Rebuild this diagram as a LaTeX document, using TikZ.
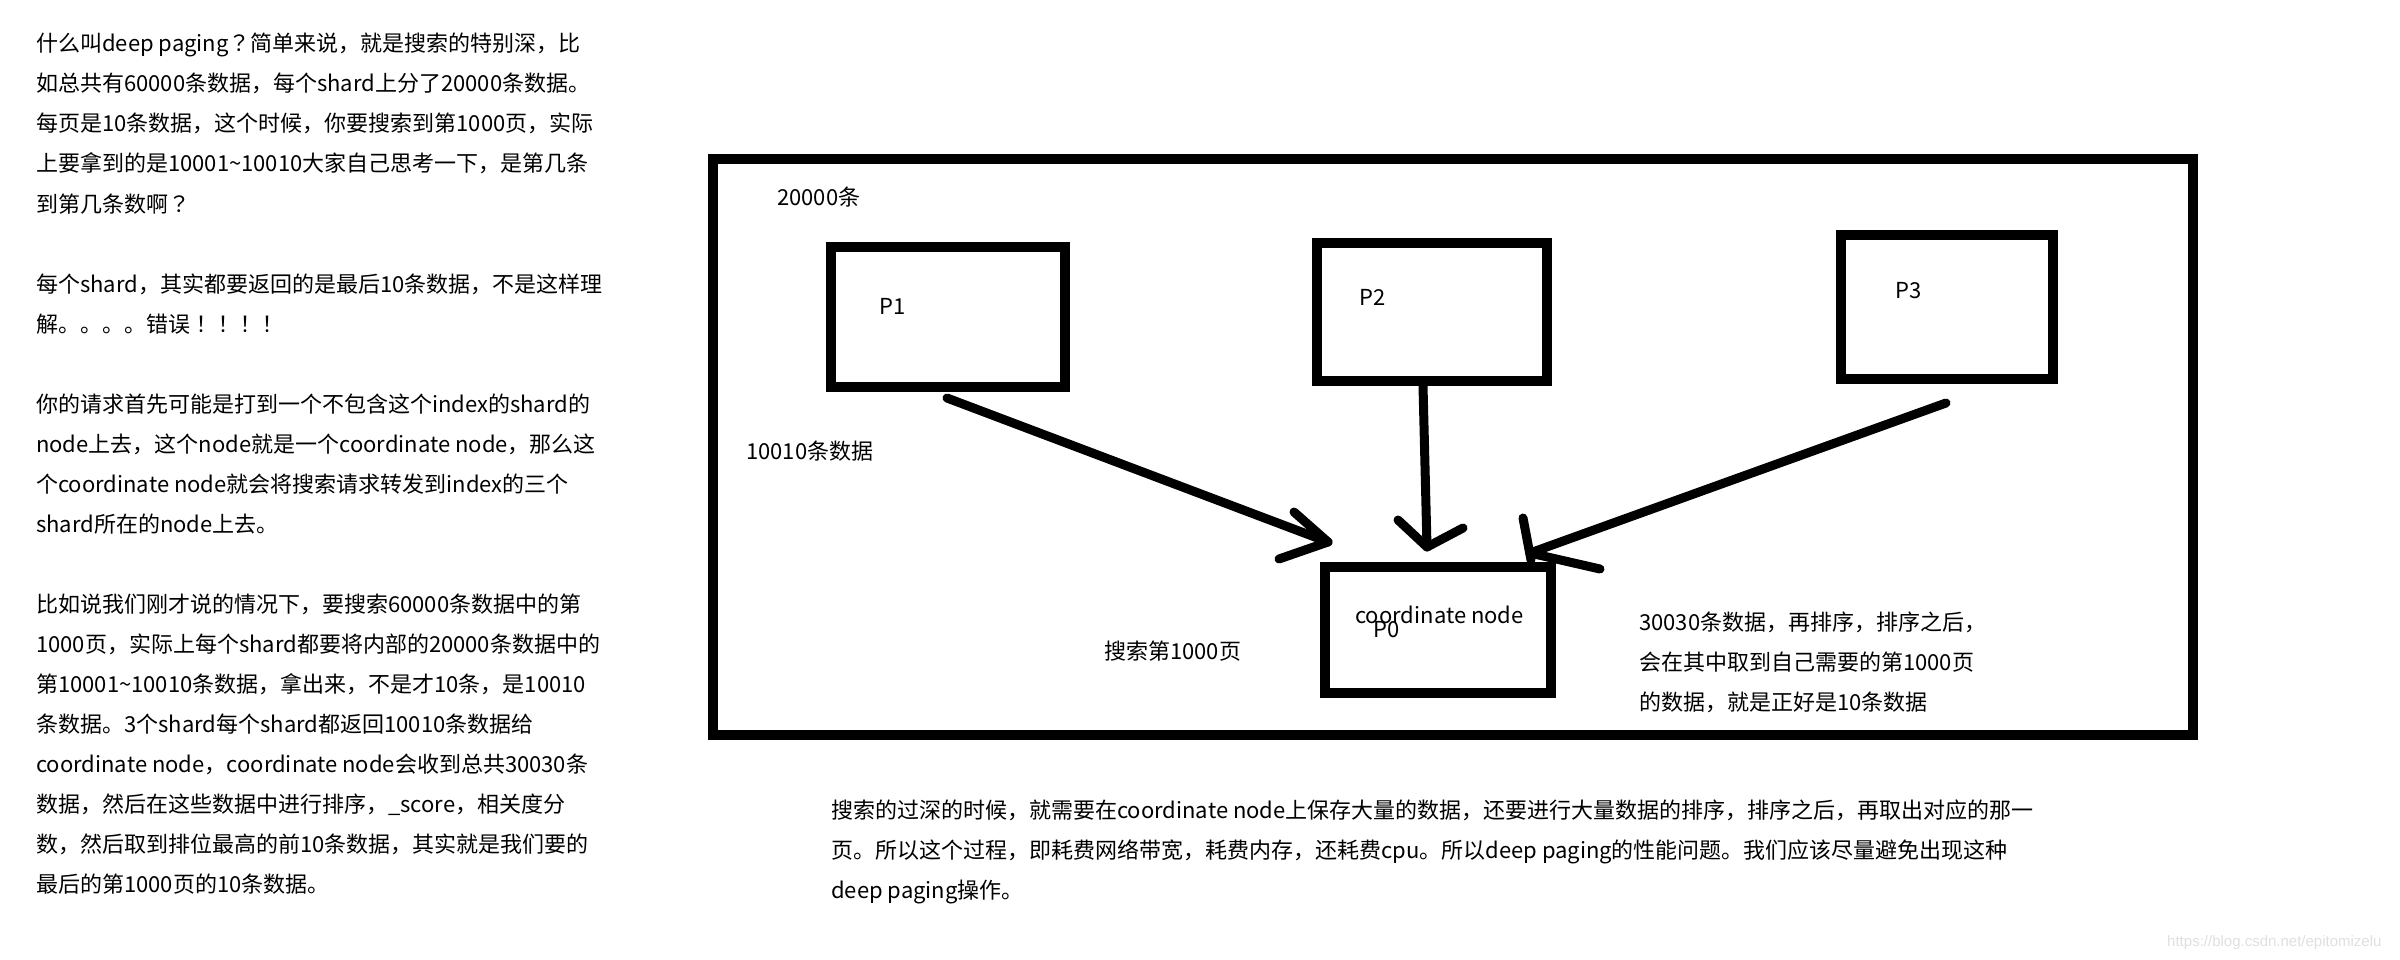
\documentclass[tikz,border=0pt]{standalone}
\usepackage{fontspec}
\setmainfont{Noto Sans CJK SC}
\newfontfamily\jpf{Noto Sans CJK JP}
\newfontfamily\wmfont{Liberation Sans}
\newcommand\qm{{\jpf ？}}
\newcommand\ex{{\jpf ！}}
\usetikzlibrary{calc}
\begin{document}
\begin{tikzpicture}[x=1pt,y=-1pt,
  box/.style={draw, line width=10pt, inner sep=0pt, outer sep=0pt},
  txt/.style={anchor=base west, inner sep=0pt, font=\fontsize{22pt}{26pt}\selectfont},
  stroke/.style={line width=9pt, line cap=round, line join=round}]
\fill[white] (0,0) rectangle (2400,960);
\useasboundingbox (0,0) rectangle (2400,960);

% left explanation
\node[txt] (l1)  at (36,52)  {什么叫deep paging\qm 简单来说，就是搜索的特别深，比};
\node[txt] (l2)  at (36,92)  {如总共有60000条数据，每个shard上分了20000条数据。};
\node[txt] (l3)  at (36,132) {每页是10条数据，这个时候，你要搜索到第1000页，实际};
\node[txt] (l4)  at (36,172) {上要拿到的是10001\textasciitilde10010大家自己思考一下，是第几条};
\node[txt] (l5)  at (36,212) {到第几条数啊\qm};
\node[txt] (l7)  at (36,292) {每个shard，其实都要返回的是最后10条数据，不是这样理};
\node[txt] (l8)  at (36,332) {解。。。。错误\ex\ex\ex\ex};
\node[txt] (l10) at (36,412) {你的请求首先可能是打到一个不包含这个index的shard的};
\node[txt] (l11) at (36,452) {node上去，这个node就是一个coordinate node，那么这};
\node[txt] (l12) at (36,492) {个coordinate node就会将搜索请求转发到index的三个};
\node[txt] (l13) at (36,532) {shard所在的node上去。};
\node[txt] (l15) at (36,612) {比如说我们刚才说的情况下，要搜索60000条数据中的第};
\node[txt] (l16) at (36,652) {1000页，实际上每个shard都要将内部的20000条数据中的};
\node[txt] (l17) at (36,692) {第10001\textasciitilde10010条数据，拿出来，不是才10条，是10010};
\node[txt] (l18) at (36,732) {条数据。3个shard每个shard都返回10010条数据给};
\node[txt] (l19) at (36,772) {coordinate node，coordinate node会收到总共30030条};
\node[txt] (l20) at (36,812) {数据，然后在这些数据中进行排序，\_score，相关度分};
\node[txt] (l21) at (36,852) {数，然后取到排位最高的前10条数据，其实就是我们要的};
\node[txt] (l22) at (36,892) {最后的第1000页的10条数据。};

% diagram
\node[box, minimum width=1480pt, minimum height=576pt] (outer) at (1453,447) {};
\node[box, minimum width=234pt, minimum height=140pt] (P1) at (948,317) {};
\node[box, minimum width=230pt, minimum height=138pt] (P2) at (1432,312) {};
\node[box, minimum width=212pt, minimum height=144pt] (P3) at (1947,307) {};
\node[box, minimum width=226pt, minimum height=126pt] (P0) at (1438,630) {};

\node[txt] (n20000) at (777,206) {20000条};
\node[txt] (lP1) at (879,314) {P1};
\node[txt] (lP2) at (1359,305) {P2};
\node[txt] (lP3) at (1895,298) {P3};
\node[txt] (lcn) at (1355,623) {coordinate node};
\node[txt] (lP0) at (1373,637) {P0};
\node[txt] (n10010) at (746,459) {10010条数据};
\node[txt] (nsearch) at (1104,659) {搜索第1000页};
\node[txt] (r1) at (1639,630) {30030条数据，再排序，排序之后，};
\node[txt] (r2) at (1639,670) {会在其中取到自己需要的第1000页};
\node[txt] (r3) at (1639,710) {的数据，就是正好是10条数据};

% arrows
\coordinate (a1s) at ($(P1.south)+(-1,11)$);
\coordinate (a2s) at ($(P2.south)+(-9,5)$);
\coordinate (a3s) at ($(P3.south)+(-1,24)$);
\coordinate (t1) at ($(P0.north)+(-110,-25)$);
\coordinate (t2) at ($(P0.north)+(-11,-20)$);
\coordinate (t3) at ($(P0.north)+(92,-14)$);
\draw[stroke] (a1s) -- (t1);
\draw[stroke] ($(t1)+(-34,-30)$) -- (t1) -- ($(t1)+(-49,17)$);
\draw[stroke] (a2s) -- (t2);
\draw[stroke] ($(t2)+(-29,-27)$) -- (t2) -- ($(t2)+(36,-19)$);
\draw[stroke] (a3s) -- (t3);
\draw[stroke] ($(t3)+(-7,-35)$) -- ($(t3)+(1,7)$);
\draw[stroke] (t3) -- ($(t3)+(70,16)$);

% bottom text
\node[txt] (b1) at (831,818) {搜索的过深的时候，就需要在coordinate node上保存大量的数据，还要进行大量数据的排序，排序之后，再取出对应的那一};
\node[txt] (b2) at (831,858) {页。所以这个过程，即耗费网络带宽，耗费内存，还耗费cpu。所以deep paging的性能问题。我们应该尽量避免出现这种};
\node[txt] (b3) at (831,898) {deep paging操作。};

\node[anchor=base west, inner sep=0pt, font=\wmfont\fontsize{15pt}{18pt}\selectfont, text=black!12] (wm) at (2167,946) {https://blog.csdn.net/epitomizelu};
\end{tikzpicture}
\end{document}
